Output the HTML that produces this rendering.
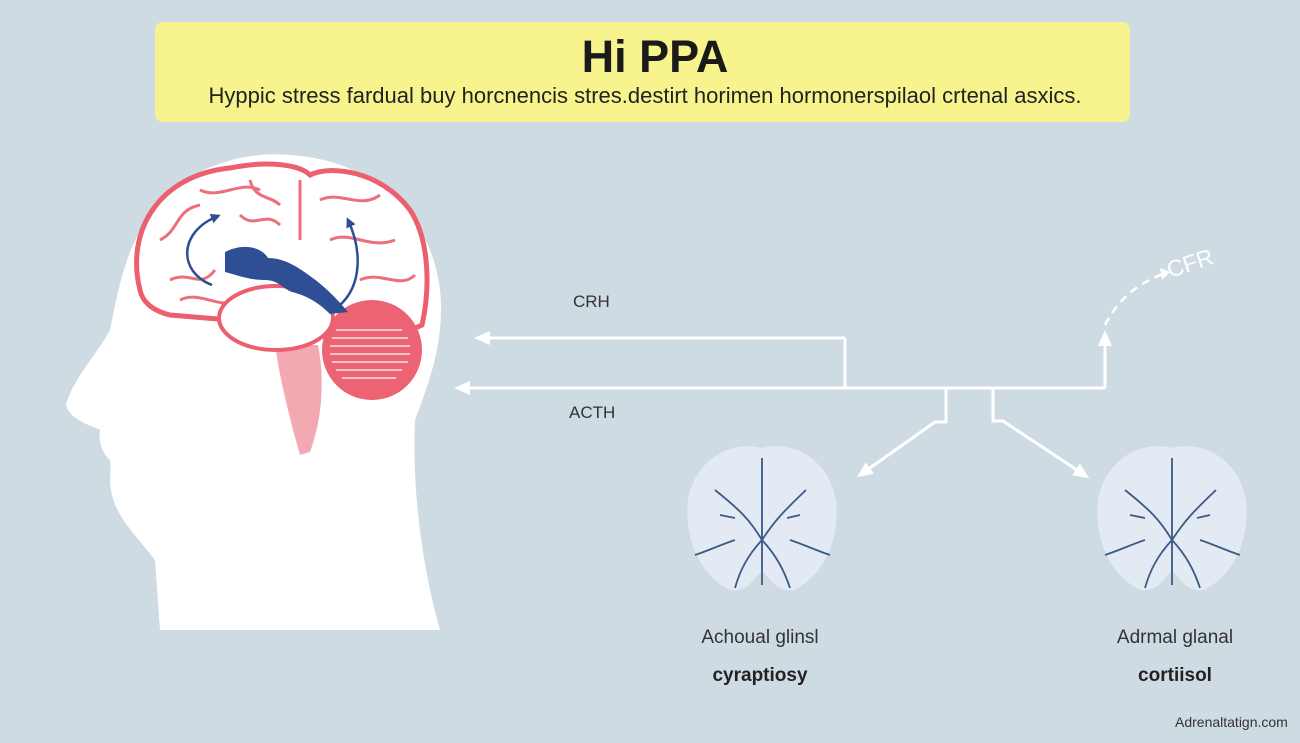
<!DOCTYPE html>
<html><head><meta charset="utf-8"><style>
body{margin:0;width:1300px;height:743px;background:#cfdbe3;overflow:hidden;font-family:"Liberation Sans",sans-serif;position:relative}
.t{position:absolute;white-space:nowrap;color:#222}
</style></head><body>
<div style="position:absolute;left:155px;top:22px;width:975px;height:100px;background:#f7f48e;border-radius:8px"></div>
<div class="t" style="left:0;width:1310px;text-align:center;top:31px;font-size:45px;font-weight:bold;color:#1a1a1a">Hi PPA</div>
<div class="t" style="left:0;width:1290px;text-align:center;top:83px;font-size:22px;color:#222">Hyppic stress fardual buy horcnencis stres.destirt horimen hormonerspilaol crtenal asxics.</div>
<svg width="1300" height="743" style="position:absolute;left:0;top:0">
<defs>
<marker id="a" markerWidth="16" markerHeight="14" refX="12" refY="7" orient="auto" markerUnits="userSpaceOnUse"><path d="M0,0L16,7L0,14z" fill="#fff"/></marker>
<marker id="b" markerWidth="10" markerHeight="10" refX="7" refY="5" orient="auto" markerUnits="userSpaceOnUse"><path d="M0,0L10,5L0,10z" fill="#2e4f94"/></marker>
</defs>
<!-- head -->
<path d="M160,630 L155,560 C140,540 118,520 112,495 C108,480 112,470 110,460 C104,455 98,445 100,430 C90,425 70,420 66,405 C72,380 100,350 110,330 C118,290 125,250 150,215 C180,170 240,150 290,155 C370,160 430,210 440,290 C445,340 430,380 415,420 C412,480 420,560 440,630 Z" fill="#fff"/>
<!-- brain -->
<path d="M140,290 C125,230 160,175 230,168 C270,160 300,165 310,175 C330,165 380,170 410,210 C430,240 430,290 422,325 L400,335 L300,335 L230,320 L170,315 C150,310 142,300 140,290Z" fill="#fff" stroke="#ec5f6f" stroke-width="5"/>
<g fill="none" stroke="#ec6f7c" stroke-width="3">
<path d="M160,240 C180,230 175,210 200,205 M170,280 C190,270 200,290 215,270 M200,190 C220,200 240,180 260,190 M240,215 C255,230 265,210 280,225 M300,180 L300,240 M320,200 C340,190 360,210 380,195 M330,240 C350,230 370,250 395,240 M360,280 C380,270 400,290 415,275 M180,300 C200,290 220,310 235,300 M250,180 C255,200 270,195 280,205"/>
</g>
<circle cx="372" cy="350" r="50" fill="#ec6474"/>
<g stroke="#f7c2c8" stroke-width="2">
<line x1="336" y1="330" x2="402" y2="330"/><line x1="332" y1="338" x2="408" y2="338"/><line x1="330" y1="346" x2="410" y2="346"/><line x1="330" y1="354" x2="410" y2="354"/><line x1="332" y1="362" x2="408" y2="362"/><line x1="336" y1="370" x2="402" y2="370"/><line x1="342" y1="378" x2="396" y2="378"/></g>
<path d="M275,345 L318,345 C325,380 322,420 310,452 L300,455 C290,420 280,380 275,345Z" fill="#f2a9b2"/>
<ellipse cx="276" cy="318" rx="57" ry="32" fill="#fff" stroke="#ec5f6f" stroke-width="4"/>
<path d="M225,252 C245,242 262,248 268,258 C285,258 300,268 318,282 C328,290 338,300 348,312 L330,314 C318,302 305,295 292,292 C282,288 278,280 265,280 C250,280 240,276 225,272Z" fill="#2e4f94"/>
<path d="M212,285 C178,272 178,232 218,216" fill="none" stroke="#2e4f94" stroke-width="2.5" marker-end="url(#b)"/>
<path d="M340,305 C362,285 362,250 348,220" fill="none" stroke="#2e4f94" stroke-width="2.5" marker-end="url(#b)"/>
<!-- connectors -->
<g stroke="#fff" stroke-width="3" fill="none">
<line x1="845" y1="338" x2="478" y2="338" marker-end="url(#a)"/>
<line x1="845" y1="338" x2="845" y2="388"/>
<line x1="1105" y1="388" x2="458" y2="388" marker-end="url(#a)"/>
<line x1="1105" y1="388" x2="1105" y2="334" marker-end="url(#a)"/>
<path d="M946,388 V422 H935 L860,475" marker-end="url(#a)"/>
<path d="M993,388 V421 H1003 L1086,476" marker-end="url(#a)"/>
<path d="M1105,325 C1118,300 1135,285 1163,274" stroke-width="2.5" stroke-dasharray="8,6"/>
</g>
<path d="M1160,268 L1170,272 L1162,280z" fill="#fff"/>
<text x="1170" y="278" fill="#fff" font-size="23" font-family="Liberation Sans" transform="rotate(-18 1170 278)">CFR</text>
<!-- glands -->
<g id="g1">
<path d="M762,448 C730,440 695,460 688,500 C684,540 700,575 730,590 C750,592 752,578 762,572 C772,578 774,592 794,590 C824,575 840,540 836,500 C829,460 794,440 762,448Z" fill="#e3eaf3"/>
<g stroke="#3c5a85" stroke-width="1.8" fill="none">
<path d="M762,458 V585"/><path d="M762,540 C750,520 740,510 715,490"/><path d="M762,540 C775,520 785,510 806,490"/>
<path d="M762,540 C748,555 740,570 735,588"/><path d="M762,540 C776,555 784,570 790,588"/>
<path d="M735,540 C720,545 710,550 695,555"/><path d="M790,540 C805,545 815,550 830,555"/>
<path d="M720,515 L735,518"/><path d="M800,515 L787,518"/></g>
</g>
<use href="#g1" x="410"/>
</svg>
<div class="t" style="left:573px;top:292px;font-size:17px;color:#333">CRH</div>
<div class="t" style="left:569px;top:403px;font-size:17px;color:#333">ACTH</div>
<div class="t" style="left:660px;width:200px;text-align:center;top:627px;font-size:19px;color:#333">Achoual glinsl</div>
<div class="t" style="left:660px;width:200px;text-align:center;top:665px;font-size:19px;font-weight:bold;color:#222">cyraptiosy</div>
<div class="t" style="left:1075px;width:200px;text-align:center;top:627px;font-size:19px;color:#333">Adrmal glanal</div>
<div class="t" style="left:1075px;width:200px;text-align:center;top:665px;font-size:19px;font-weight:bold;color:#222">cortiisol</div>
<div class="t" style="left:1175px;top:714px;font-size:14px;color:#333">Adrenaltatign.com</div>
</body></html>
